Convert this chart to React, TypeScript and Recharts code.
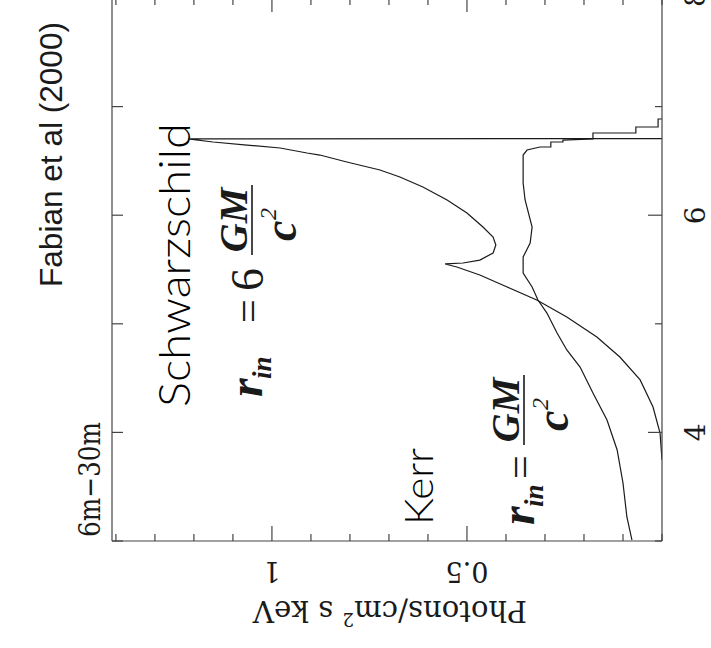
import React from 'react';
import { LineChart, Line, XAxis, YAxis } from 'recharts';

// Fe line profiles (Fabian et al 2000): energy in keV, flux in photons/cm^2 s keV
const schwE = [3.746, 3.994, 4.234, 4.483, 4.694, 4.878, 5.063, 5.219, 5.339, 5.449, 5.523, 5.551, 5.56, 5.587, 5.652, 5.726, 5.799, 5.891, 6.02, 6.14, 6.26, 6.352, 6.416, 6.49, 6.554, 6.573, 6.619, 6.646, 6.674, 6.702, 6.706];
const schwF = [0, 0.005, 0.023, 0.056, 0.108, 0.167, 0.244, 0.321, 0.397, 0.467, 0.526, 0.556, 0.51, 0.467, 0.433, 0.426, 0.433, 0.459, 0.5, 0.551, 0.613, 0.672, 0.723, 0.808, 0.877, 0.91, 0.979, 1.064, 1.151, 1.215, 0];

const kerrE = [3.009, 3.221, 3.534, 3.838, 4.114, 4.363, 4.602, 4.759, 4.915, 5.099, 5.219, 5.339, 5.468, 5.615, 5.744, 5.891, 6.14, 6.297, 6.554, 6.6, 6.628, 6.628, 6.674, 6.674, 6.692, 6.702, 6.702, 6.757, 6.757, 6.812, 6.812, 6.886, 6.886];
const kerrF = [0.077, 0.09, 0.1, 0.115, 0.141, 0.177, 0.21, 0.244, 0.269, 0.295, 0.318, 0.333, 0.356, 0.356, 0.338, 0.333, 0.351, 0.356, 0.356, 0.346, 0.313, 0.285, 0.285, 0.254, 0.254, 0.177, 0.177, 0.177, 0.067, 0.067, 0.01, 0.01, 0];

const energyTicks = [3, 4, 5, 6, 7, 8];
const energyLabels = [4, 6, 8];
const fluxTicks = [0, 0.1, 0.2, 0.3, 0.4, 0.5, 0.6, 0.7, 0.8, 0.9, 1, 1.1, 1.2, 1.3, 1.4];
const fluxLabels = [0.5, 1];

const schwData = schwE.map((e, i) => ({ E: e, F: schwF[i] }));
const kerrData = kerrE.map((e, i) => ({ E: e, F: kerrF[i] }));

const INK = '#1a1a1a';
const AXIS = '#444';
const SERIF = '"DejaVu Serif", "Liberation Serif", serif';
const TIMES = '"Liberation Serif", "Times New Roman", serif';
const THIN = 'Lato, "Noto Sans", sans-serif';

const BottomTick = (props: any) => {
    const { x, y, payload } = props;
    const major = energyLabels.includes(payload.value);
    return (
        <g>
            <line x1={x} y1={y} x2={x} y2={y - (major ? 14 : 7)} stroke={AXIS} strokeWidth={1.2} />
            {major && (
                <text x={x} y={y + 43} textAnchor="middle" fontFamily={SERIF} fontSize={28} fill={INK}>
                    {payload.value}
                </text>
            )}
        </g>
    );
};

const TopTick = (props: any) => {
    const { x, y } = props;
    return <line x1={x} y1={y} x2={x} y2={y + 11} stroke={AXIS} strokeWidth={1.2} />;
};

const LeftTick = (props: any) => {
    const { x, y, payload } = props;
    const major = fluxLabels.includes(payload.value);
    return (
        <g>
            <line x1={x} y1={y} x2={x + (major ? 15 : 7)} y2={y} stroke={AXIS} strokeWidth={1.2} />
            {major && (
                <text transform={`translate(${x - 21},${y}) rotate(-90)`} textAnchor="middle" fontFamily={SERIF} fontSize={27} fill={INK}>
                    {payload.value}
                </text>
            )}
        </g>
    );
};

const RightTick = (props: any) => {
    const { x, y, payload } = props;
    const major = fluxLabels.includes(payload.value);
    return <line x1={x} y1={y} x2={x - (major ? 14 : 7)} y2={y} stroke={AXIS} strokeWidth={1.2} />;
};

// r_in = [k] GM / c^2, drawn in the unrotated frame
const Formula = ({ u, v, eq, frac, k }: { u: number; v: number; eq: number; frac: number; k?: string }) => (
    <g fill={INK} fontFamily={TIMES}>
        <text x={u} y={v} fontSize={48} fontStyle="italic" fontWeight="bold">r</text>
        <text x={u + 18} y={v + 9} fontSize={27} fontStyle="italic" fontWeight="bold">in</text>
        <text x={u + eq} y={v} fontSize={42}>=</text>
        {k && <text x={u + eq + 32} y={v + 1} fontSize={46}>{k}</text>}
        <line x1={u + frac} y1={v - 10} x2={u + frac + 70} y2={v - 10} stroke={INK} strokeWidth={1.6} />
        <text x={u + frac + 35} y={v - 15} textAnchor="middle" fontSize={40} fontStyle="italic" fontWeight="bold">GM</text>
        <text x={u + frac + 14} y={v + 34} fontSize={46} fontStyle="italic" fontWeight="bold">c</text>
        <text x={u + frac + 35} y={v + 14} fontSize={24} fontStyle="italic">2</text>
    </g>
);

export default function App() {
    return (
        <div style={{ position: 'absolute', left: 0, top: 0, width: 711, height: 648, overflow: 'hidden', background: '#fff' }}>
            <div style={{ position: 'absolute', left: 0, top: 0, width: 700, height: 711, transform: 'translate(0px, 648px) rotate(-90deg)', transformOrigin: '0 0' }}>
                <LineChart width={700} height={711} margin={{ top: 111, right: 49, bottom: 48, left: 106 }}>
                    <XAxis xAxisId={0} type="number" dataKey="E" domain={[3, 8]} allowDataOverflow ticks={energyTicks} interval={0}
                        tickSize={0} tickMargin={0} tickLine={false} height={1} stroke={AXIS} strokeWidth={1.2} tick={BottomTick} />
                    <XAxis xAxisId="top" orientation="top" type="number" dataKey="E" domain={[3, 8]} allowDataOverflow ticks={energyTicks} interval={0}
                        tickSize={0} tickMargin={0} tickLine={false} height={1} stroke={AXIS} strokeWidth={1.2} tick={TopTick} />
                    <YAxis yAxisId={0} type="number" domain={[0, 1.41]} allowDataOverflow ticks={fluxTicks} interval={0}
                        tickSize={0} tickMargin={0} tickLine={false} width={1} stroke={AXIS} strokeWidth={1.2} tick={LeftTick} />
                    <YAxis yAxisId="right" orientation="right" type="number" domain={[0, 1.41]} allowDataOverflow ticks={fluxTicks} interval={0}
                        tickSize={0} tickMargin={0} tickLine={false} width={1} stroke={AXIS} strokeWidth={1.2} tick={RightTick} />
                    <Line data={schwData} dataKey="F" type="linear" stroke={INK} strokeWidth={1.2} dot={false} isAnimationActive={false} />
                    <Line data={kerrData} dataKey="F" type="linear" stroke={INK} strokeWidth={1.2} dot={false} isAnimationActive={false} />

                    <text x={361} y={62} fontFamily='"Liberation Sans", Arial, sans-serif' fontSize={32} fill={INK} textLength={265} lengthAdjust="spacingAndGlyphs">Fabian et al (2000)</text>
                    <text x={111} y={100} fontFamily={SERIF} fontSize={30} fill={INK} textLength={115} lengthAdjust="spacingAndGlyphs">6m−30m</text>
                    <text x={241} y={190} fontFamily={THIN} fontWeight={300} fontSize={44} fill="#000" textLength={284} lengthAdjust="spacingAndGlyphs">Schwarzschild</text>
                    <text x={123} y={433} fontFamily={THIN} fontWeight={300} fontSize={40} fill="#000" textLength={77} lengthAdjust="spacingAndGlyphs">Kerr</text>
                    <Formula u={251} v={262} eq={74} frac={142} k="6" />
                    <Formula u={123} v={534} eq={46} frac={80} />
                    <text transform="translate(47,390) rotate(-90)" textAnchor="middle" fontFamily={SERIF} fontSize={29} fill={INK} textLength={274} lengthAdjust="spacingAndGlyphs">
                        Photons/cm<tspan dy={-12} fontSize={18}>2</tspan><tspan dy={12}> s keV</tspan>
                    </text>
                </LineChart>
            </div>
        </div>
    );
}
